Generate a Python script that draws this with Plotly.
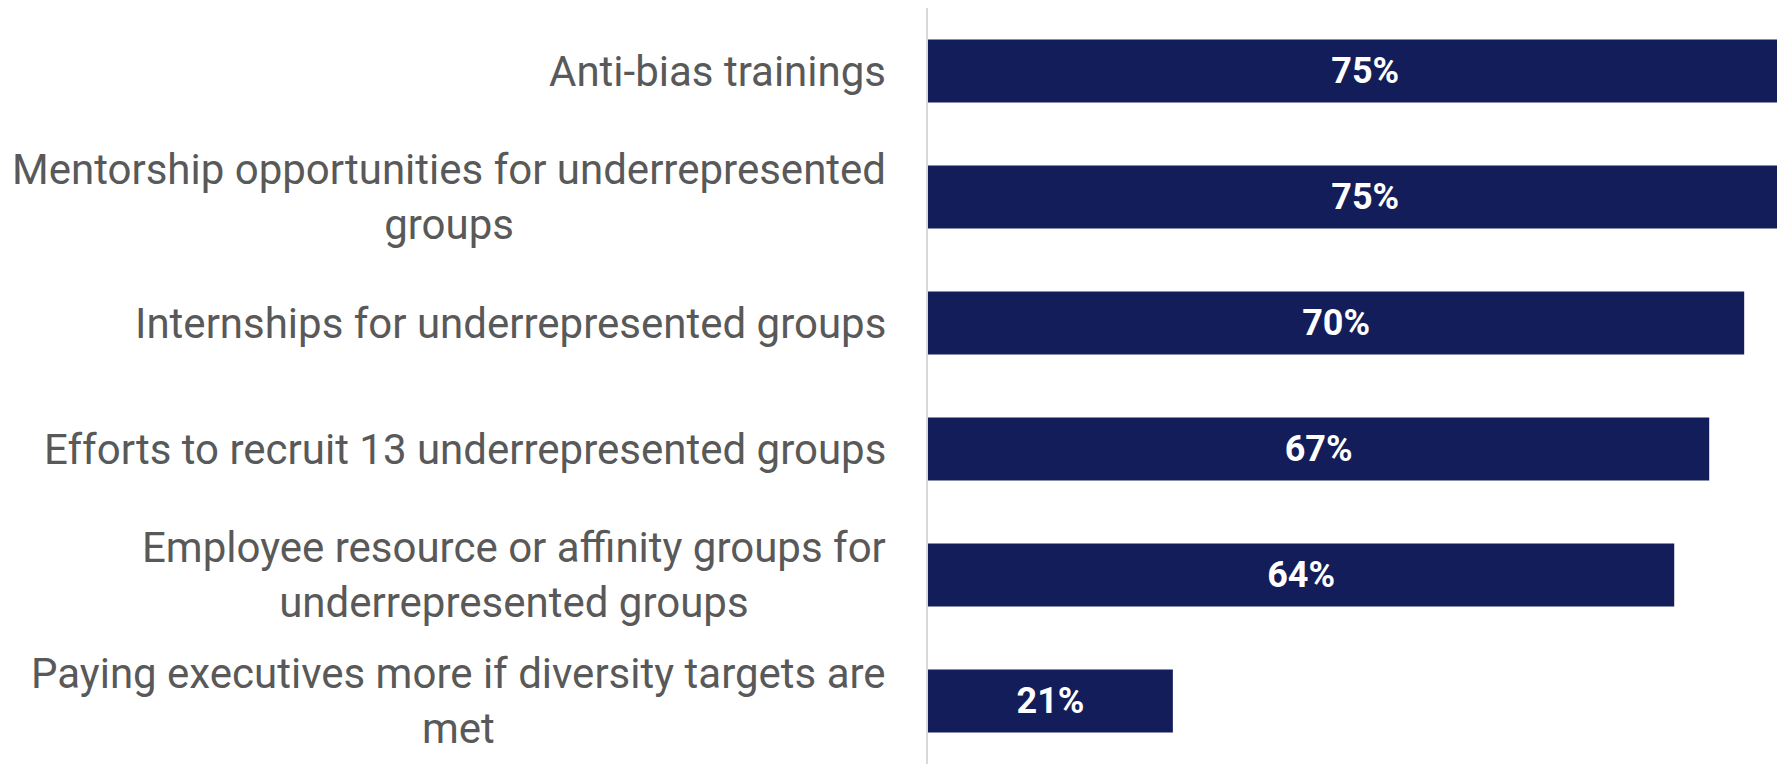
import plotly.graph_objects as go

# Survey data
categories = [
    "Anti-bias trainings",
    "Mentorship opportunities for underrepresented<br>groups",
    "Internships for underrepresented groups",
    "Efforts to recruit 13 underrepresented groups",
    "Employee resource or affinity groups for<br>underrepresented groups",
    "Paying executives more if diversity targets are<br>met",
]
shares = [75, 75, 70, 67, 64, 21]

bar_color = "#131D5A"
label_color = "#595959"

fig = go.Figure(go.Bar(
    x=shares,
    y=categories,
    orientation="h",
    marker=dict(color=bar_color, line=dict(width=0)),
    texttemplate="<b>%{x}%</b>",
    textposition="inside",
    insidetextanchor="middle",
    constraintext="none",
    textfont=dict(family="Roboto", size=36, color="white"),
    cliponaxis=True,
))

# category labels as annotations so wrapped lines are centred
for cat in categories:
    fig.add_annotation(
        x=0, xref="paper", y=cat, yref="y",
        text=cat, showarrow=False,
        xanchor="right", yanchor="middle", align="center",
        xshift=-40,
        font=dict(family="Roboto", size=42, color=label_color),
    )

fig.update_layout(
    width=1777, height=757,
    margin=dict(l=920, r=0, t=0, b=1),
    plot_bgcolor="white", paper_bgcolor="white",
    bargap=0.5,
    showlegend=False,
    xaxis=dict(range=[0, 73.5], visible=False, showgrid=False, zeroline=False),
    yaxis=dict(autorange="reversed", showticklabels=False, showgrid=False,
               showline=True, linecolor="#D9D9D9", linewidth=2, ticks=""),
)

fig.write_html("out.html")
